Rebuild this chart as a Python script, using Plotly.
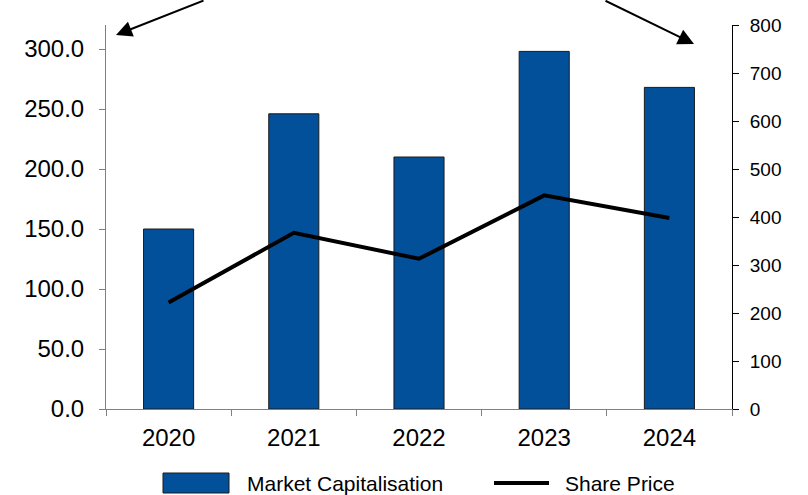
import plotly.graph_objects as go

# Chart data
years = ["2020", "2021", "2022", "2023", "2024"]
market_cap = [150, 246, 210, 298, 268]          # left axis
share_price = [222, 367, 313, 445, 398]          # right axis
left_ticks = [0, 50, 100, 150, 200, 250, 300]
right_ticks = [0, 100, 200, 300, 400, 500, 600, 700, 800]

BAR_BLUE = "#02509A"
FONT = "Liberation Sans, Arial, sans-serif"

W, H = 808, 495
L, R, T, B = 106, 76, 25, 86
PW, PH = W - L - R, H - T - B


def px_x(px):
    return (px - L) / PW


def px_y(py):
    return (H - B - py) / PH


fig = go.Figure()
fig.add_trace(go.Bar(
    x=years, y=market_cap, name="Market Capitalisation",
    marker=dict(color=BAR_BLUE, line=dict(color="#1a1a1a", width=1)),
    width=0.4, yaxis="y",
))
fig.add_trace(go.Scatter(
    x=years, y=share_price, name="Share Price", mode="lines",
    line=dict(color="black", width=4), yaxis="y2",
))

fig.update_layout(
    width=W, height=H,
    margin=dict(l=L, r=R, t=T, b=B, pad=0),
    paper_bgcolor="white", plot_bgcolor="white",
    showlegend=False,
    font=dict(family=FONT, color="black"),
    bargap=0.6,
    xaxis=dict(
        type="category", showgrid=False, showline=True, linecolor="#808080",
        linewidth=1, ticks="outside", tickson="boundaries", ticklen=6,
        tickcolor="#808080", tickfont=dict(size=24, family=FONT),
        zeroline=False, ticklabelstandoff=7,
    ),
    yaxis=dict(
        range=[0, 320], tickvals=left_ticks, tickformat=".1f",
        showgrid=False, showline=True, linecolor="#808080", linewidth=1,
        ticks="outside", ticklen=6, tickcolor="#808080",
        tickfont=dict(size=24, family=FONT), zeroline=False,
        ticklabelstandoff=10,
    ),
    yaxis2=dict(
        range=[0, 800], tickvals=right_ticks, overlaying="y", side="right",
        showgrid=False, showline=True, linecolor="black", linewidth=1,
        ticks="outside", ticklen=6, tickcolor="black",
        tickfont=dict(size=19, family=FONT), zeroline=False,
        ticklabelstandoff=7,
    ),
)

# Pointer arrows toward each axis
fig.add_annotation(
    xref="paper", yref="paper", x=px_x(116), y=px_y(35), text="",
    showarrow=True, ax=205 - 116, ay=-1 - 35, arrowhead=2, arrowsize=1.6,
    arrowwidth=2, arrowcolor="black",
)
fig.add_annotation(
    xref="paper", yref="paper", x=px_x(694), y=px_y(44), text="",
    showarrow=True, ax=604 - 694, ay=-1 - 44, arrowhead=2, arrowsize=1.6,
    arrowwidth=2, arrowcolor="black",
)

# Legend drawn below the plot
fig.add_shape(
    type="rect", xref="paper", yref="paper",
    x0=px_x(163), x1=px_x(229), y0=px_y(493), y1=px_y(473),
    fillcolor=BAR_BLUE, line=dict(color="#1a1a1a", width=1),
)
fig.add_shape(
    type="line", xref="paper", yref="paper",
    x0=px_x(494), x1=px_x(549), y0=px_y(483), y1=px_y(483),
    line=dict(color="black", width=4),
)
fig.add_annotation(
    xref="paper", yref="paper", x=px_x(245), y=px_y(483),
    text="Market Capitalisation", showarrow=False, xanchor="left",
    yanchor="middle", font=dict(size=21, family=FONT),
)
fig.add_annotation(
    xref="paper", yref="paper", x=px_x(563), y=px_y(483),
    text="Share Price", showarrow=False, xanchor="left",
    yanchor="middle", font=dict(size=21, family=FONT),
)

fig.write_html("out.html")
